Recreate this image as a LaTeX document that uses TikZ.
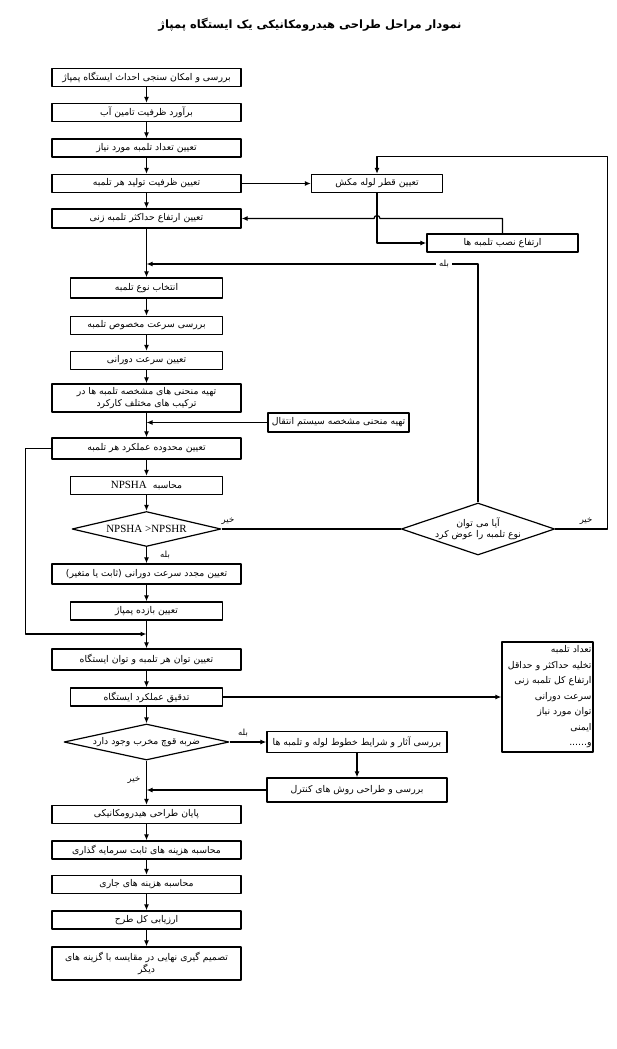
\documentclass[tikz,border=0pt]{standalone}
\usepackage{fontspec}
\setmainfont{Liberation Serif}
\newfontfamily\fa[Script=Arabic]{DejaVu Sans}
\TeXXeTstate=1
\usetikzlibrary{shapes.geometric,arrows.meta,calc}
\tikzset{>={Latex[length=6pt,width=5pt]}}
\newcommand\fatext[1]{\beginR #1\endR}
\tikzset{
    wbox/.style={draw,line width=1.3pt,minimum width=189pt,minimum height=18pt,inner sep=1pt,font=\fa\fontsize{9.3}{12}\selectfont},
    nbox/.style={wbox,minimum width=152pt},
    sbox/.style={wbox,minimum width=#1},
    decision/.style={draw,diamond,line width=1.2pt,inner sep=0pt,aspect=5,font=\fa\fontsize{9.3}{12}\selectfont},
    lbl/.style={font=\fa\fontsize{8.5}{10}\selectfont,inner sep=1pt},
    link/.style={line width=1.2pt}
}
\begin{document}
\begin{tikzpicture}[x=1pt,y=-1pt,line join=round]
    \useasboundingbox (0,0) rectangle (617,1049);
    \node[font=\fa\bfseries\fontsize{11.5}{14}\selectfont] (title) at (310,25) {\fatext{نمودار مراحل طراحی هیدرومکانیکی یک ایستگاه پمپاژ}};

    % main column
    \node[wbox] (b1) at (146.5,77.5) {\fatext{بررسی و امکان سنجی احداث ایستگاه پمپاژ}};
    \node[wbox] (b2) at (146.5,112.5) {\fatext{برآورد ظرفیت تامین آب}};
    \node[wbox] (b3) at (146.5,148) {\fatext{تعیین تعداد تلمبه مورد نیاز}};
    \node[wbox] (b4) at (146.5,183.5) {\fatext{تعیین ظرفیت تولید هر تلمبه}};
    \node[wbox,minimum height=19pt] (b5) at (146.5,218.5) {\fatext{تعیین ارتفاع حداکثر تلمبه زنی}};
    \node[nbox,minimum height=20pt] (b6) at (146.5,288) {\fatext{انتخاب نوع تلمبه}};
    \node[nbox] (b7) at (146.5,325.5) {\fatext{بررسی سرعت مخصوص تلمبه}};
    \node[nbox] (b8) at (146.5,360.5) {\fatext{تعیین سرعت دورانی}};
    \node[wbox,minimum height=28pt,align=center,font=\fa\fontsize{9.3}{12}\selectfont] (b9) at (146.5,398)
        {\fatext{تهیه منحنی های مشخصه تلمبه ها در}\\\fatext{ترکیب های مختلف کارکرد}};
    \node[wbox,minimum height=21pt] (b10) at (146.5,448.5) {\fatext{تعیین محدوده عملکرد هر تلمبه}};
    \node[nbox] (b11) at (146.5,485.5) {\fatext{محاسبه\ \ {\rmfamily\fontsize{11}{12}\selectfont\beginL NPSHA\endL}}};
    \node[decision,minimum width=149pt,minimum height=35pt,font=\rmfamily\fontsize{11}{12}\selectfont] (d1) at (146.5,529) {NPSHA >NPSHR};
    \node[wbox,minimum height=20pt] (b12) at (146.5,574) {\fatext{تعیین مجدد سرعت دورانی (ثابت یا متغیر)}};
    \node[nbox] (b13) at (146.5,611) {\fatext{تعیین بازده پمپاژ}};
    \node[wbox,minimum height=21pt] (b14) at (146.5,659.5) {\fatext{تعیین توان هر تلمبه و توان ایستگاه}};
    \node[nbox] (b15) at (146.5,697) {\fatext{تدقیق عملکرد ایستگاه}};
    \node[decision,minimum width=165pt,minimum height=36pt] (d3) at (146.5,742) {\fatext{ضربه قوچ مخرب وجود دارد}};
    \node[wbox] (b18) at (146.5,814.5) {\fatext{پایان طراحی هیدرومکانیکی}};
    \node[wbox] (b19) at (146.5,850) {\fatext{محاسبه هزینه های ثابت سرمایه گذاری}};
    \node[wbox] (b20) at (146.5,884.5) {\fatext{محاسبه هزینه های جاری}};
    \node[wbox] (b21) at (146.5,920) {\fatext{ارزیابی کل طرح}};
    \node[wbox,minimum height=33pt,align=center,font=\fa\fontsize{9.3}{11.5}\selectfont] (b22) at (146.5,963.5)
        {\fatext{تصمیم گیری نهایی در مقایسه با گزینه های}\\\fatext{دیگر}};

    % side boxes
    \node[sbox=131pt] (pipe) at (377,183.5) {\fatext{تعیین قطر لوله مکش}};
    \node[sbox=151pt] (hgt) at (502.5,243) {\fatext{ارتفاع نصب تلمبه ها}};
    \node[sbox=141pt,minimum height=19pt] (trans) at (338.5,422.5) {\fatext{تهیه منحنی مشخصه سیستم انتقال}};
    \node[decision,aspect=3,minimum width=150pt,minimum height=52pt,align=center,font=\fa\fontsize{9.3}{11.5}\selectfont] (d2) at (478,529)
        {\fatext{آیا می توان}\\\fatext{نوع تلمبه را عوض کرد}};
    \node[draw,line width=1.3pt,minimum width=91pt,minimum height=110pt,text width=88pt,align=right,inner sep=1.5pt,
        font=\fa\fontsize{9.3}{15.5}\selectfont] (list) at (547.5,697)
        {\fatext{تعداد تلمبه}\\\fatext{تخلیه حداکثر و حداقل}\\\fatext{ارتفاع کل تلمبه زنی}\\\fatext{سرعت دورانی}\\\fatext{توان مورد نیاز}\\\fatext{ایمنی}\\\fatext{و......}};
    \node[sbox=180pt,minimum height=21pt] (b16) at (357,742) {\fatext{بررسی آثار و شرایط خطوط لوله و تلمبه ها}};
    \node[sbox=180pt,minimum height=24pt] (b17) at (357,790) {\fatext{بررسی و طراحی روش های کنترل}};

    % straight links
    \foreach \a/\b in {b1/b2,b2/b3,b3/b4,b4/b5,b5/b6,b6/b7,b7/b8,b8/b9,b9/b10,b10/b11,b11/d1,d1/b12,
        b12/b13,b13/b14,b14/b15,b15/d3,d3/b18,b18/b19,b19/b20,b20/b21,b21/b22,b4/pipe,b15/list,b16/b17}
        \draw[link,->] (\a) -- (\b);
    \draw[link,->] (d3.east) -- (b16.west);

    % loops
    \coordinate (j1) at (146.5,264);
    \coordinate (j2) at (146.5,634);
    \draw[link,->] (pipe.south) |- (hgt.west);
    \draw[link,->] (hgt.north) |- ($(pipe.south |- b5.east)+(3,0)$) arc[start angle=0,end angle=180,radius=3pt] -- (b5.east);
    \draw[link] (d1.east) -- (d2.west);
    \draw[link,->] (d2.east) -- ++(52,0) |- ($(pipe.north)+(0,-17)$) -- (pipe.north);
    \draw[link,->] (d2.north) |- (j1);
    \draw[link,->] (trans.west) -- (trans.west -| b9.south);
    \draw[link,->] (b10.west) -- ++(-26,0) |- (j2);
    \draw[link,->] (b17.west) -- (b17.west -| b18.north);

    % answers
    \node[lbl,fill=white,inner sep=3pt] at (444,264) {\fatext{بله}};
    \node[lbl] at (228,521) {\fatext{خیر}};
    \node[lbl] at (586,521) {\fatext{خیر}};
    \node[lbl] at (165,555) {\fatext{بله}};
    \node[lbl] at (243,733) {\fatext{بله}};
    \node[lbl] at (134,780) {\fatext{خیر}};

\end{tikzpicture}
\end{document}
